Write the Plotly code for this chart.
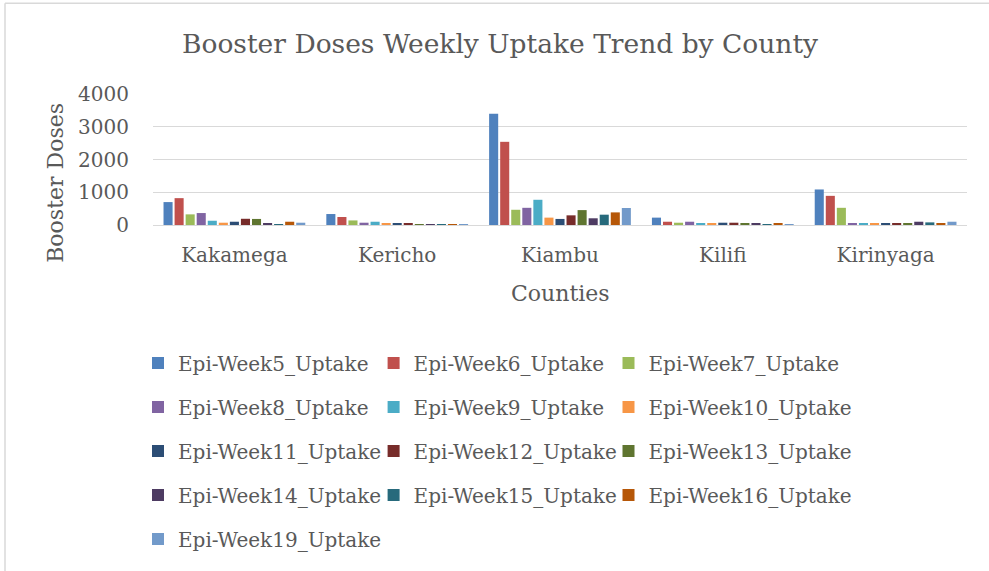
import plotly.graph_objects as go

counties = ["Kakamega", "Kericho", "Kiambu", "Kilifi", "Kirinyaga"]
series_names = ["Epi-Week5_Uptake", "Epi-Week6_Uptake", "Epi-Week7_Uptake", "Epi-Week8_Uptake",
                "Epi-Week9_Uptake", "Epi-Week10_Uptake", "Epi-Week11_Uptake", "Epi-Week12_Uptake",
                "Epi-Week13_Uptake", "Epi-Week14_Uptake", "Epi-Week15_Uptake", "Epi-Week16_Uptake",
                "Epi-Week19_Uptake"]

# values per county, in county order
week5 = [700, 335, 3400, 225, 1085]
week6 = [820, 245, 2540, 100, 890]
week7 = [325, 140, 465, 70, 525]
week8 = [365, 70, 525, 100, 50]
week9 = [130, 100, 770, 40, 50]
week10 = [70, 60, 225, 60, 50]
week11 = [100, 40, 185, 70, 40]
week12 = [190, 40, 295, 70, 50]
week13 = [185, 25, 455, 40, 50]
week14 = [50, 15, 205, 40, 100]
week15 = [30, 5, 315, 30, 80]
week16 = [100, 5, 385, 50, 40]
week19 = [70, 20, 520, 30, 100]

series_values = [week5, week6, week7, week8, week9, week10, week11, week12,
                 week13, week14, week15, week16, week19]

colors = ["#4F81BD", "#C0504D", "#9BBB59", "#8064A2", "#4BACC6", "#F79646", "#2C4D75",
          "#772C2A", "#5F7530", "#4D3B62", "#276A7C", "#B65708", "#729ACA"]

y_ticks = [0, 1000, 2000, 3000, 4000]

FONT = "DejaVu Serif"
GREY = "#595959"

W, H = 989, 571
L, R = 153, 22
T, B = 94, 345.7
pw = W - L - R
ph = H - T - B


def px_x(p):
    return (p - L) / pw


def px_y(p):
    return (H - B - p) / ph


legend_ids = ["legend", "legend2", "legend3"]

fig = go.Figure()
for i, (name, vals, col) in enumerate(zip(series_names, series_values, colors)):
    fig.add_trace(go.Bar(
        x=counties, y=vals, name=name, marker=dict(color=col, line=dict(width=0)),
        legend=legend_ids[i % 3], legendgroup=name,
    ))

legend_lefts = [138, 373.6, 608.5]
leg_common = dict(
    font=dict(family=FONT, size=20, color=GREY), bgcolor="rgba(0,0,0,0)",
    borderwidth=0, orientation="v", xanchor="left", yanchor="top",
    tracegroupgap=15, traceorder="grouped", itemclick=False,
)

layout_legends = {}
for lid, left in zip(legend_ids, legend_lefts):
    layout_legends[lid] = dict(x=px_x(left), y=px_y(344), **leg_common)

fig.update_layout(
    width=W, height=H,
    margin=dict(l=L, r=R, t=T, b=B, autoexpand=False),
    paper_bgcolor="white", plot_bgcolor="white",
    barmode="group", bargap=0.117, bargroupgap=0.18,
    title=dict(text="Booster Doses Weekly Uptake Trend by County",
               font=dict(family=FONT, size=26.5, color=GREY),
               x=px_x(500), xref="paper", xanchor="center",
               y=1 - 44 / H, yref="container", yanchor="middle"),
    xaxis=dict(tickfont=dict(family=FONT, size=20, color=GREY), showgrid=False,
               showline=False, ticks="", ticklabelstandoff=16),
    yaxis=dict(range=[0, 4000], tickvals=y_ticks, tickfont=dict(family=FONT, size=20, color=GREY),
               showgrid=True, gridcolor="#D9D9D9", gridwidth=1.3, zeroline=True,
               zerolinecolor="#D9D9D9", zerolinewidth=1.3, showline=False, ticks="",
               ticklabelstandoff=23),
    annotations=[
        dict(text="Booster Doses", textangle=-90, xref="paper", yref="paper",
             x=px_x(56), y=px_y(183), xanchor="center", yanchor="middle", showarrow=False,
             font=dict(family=FONT, size=22, color=GREY)),
        dict(text="Counties", xref="paper", yref="paper",
             x=px_x(560), y=px_y(294), xanchor="center", yanchor="middle", showarrow=False,
             font=dict(family=FONT, size=22, color=GREY)),
    ],
    shapes=[
        dict(type="line", xref="paper", yref="paper", x0=px_x(5), x1=px_x(5),
             y0=px_y(3), y1=px_y(H + 5), line=dict(color="#D9D9D9", width=1.5)),
        dict(type="line", xref="paper", yref="paper", x0=px_x(5), x1=px_x(W + 5),
             y0=px_y(3), y1=px_y(3), line=dict(color="#D9D9D9", width=1.5)),
    ],
    **layout_legends,
)

fig.write_html("out.html", config={"displayModeBar": False},
               post_script="document.body.style.margin='0';document.body.style.overflow='hidden';")
